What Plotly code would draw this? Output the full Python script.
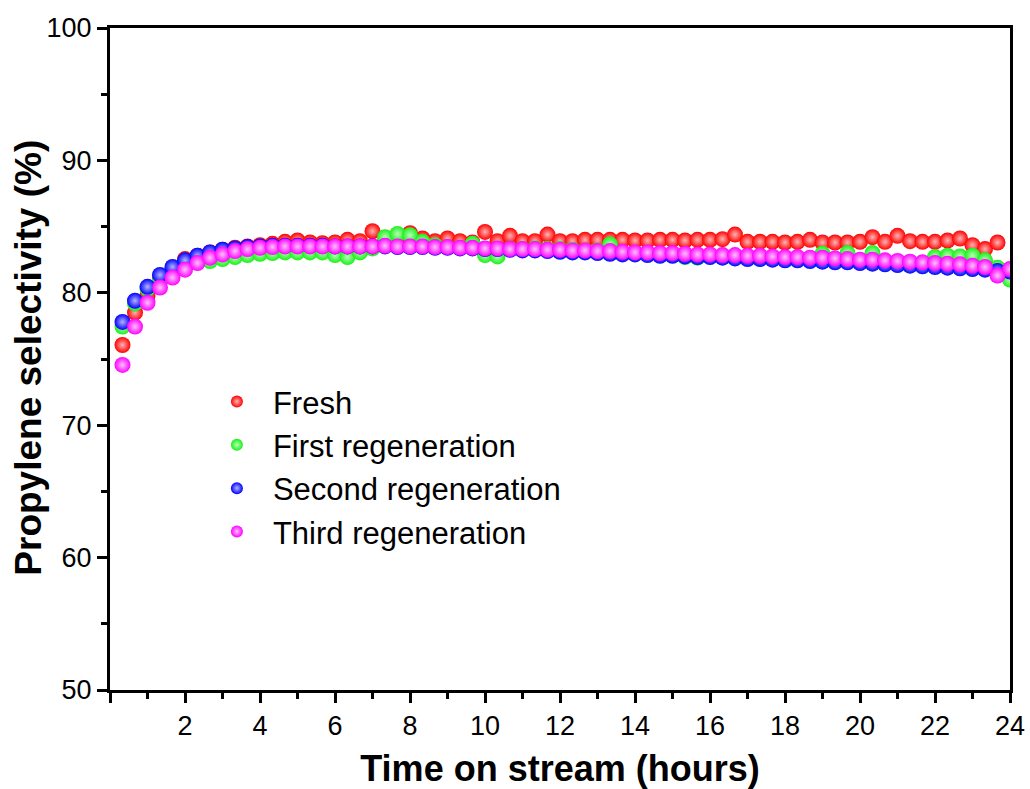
import plotly.graph_objects as go

# time on stream (hours): every 20 minutes
time_h = [k / 3 for k in range(1, 73)]

fresh = [76.06, 78.5, 79.76, 81.1, 81.8, 82.55, 82.8, 83.05, 83.25, 83.4,
         83.5, 83.6, 83.7, 83.85, 83.95, 83.8, 83.75, 83.8, 84.0, 83.9,
         84.65, 83.9, 84.0, 84.5, 84.1, 83.9, 84.1, 83.9, 83.8, 84.6,
         83.9, 84.3, 83.9, 83.9, 84.4, 83.9, 83.9, 84.0, 84.0, 84.0,
         84.0, 83.95, 83.95, 84.0, 84.0, 83.95, 84.0, 84.0, 84.05, 84.4,
         83.85, 83.85, 83.85, 83.8, 83.85, 84.0, 83.8, 83.8, 83.8, 83.85,
         84.2, 83.85, 84.3, 83.9, 83.85, 83.85, 83.95, 84.1, 83.6, 83.3,
         83.8]

first_regen = [77.45, 79.2, 80.3, 80.95, 81.65, 82.15, 82.4, 82.4, 82.55, 82.7,
               82.85, 82.95, 83.0, 83.05, 83.05, 83.05, 83.05, 82.85, 82.7, 83.05,
               83.35, 84.2, 84.45, 84.35, 83.85, 83.6, 83.45, 83.4, 83.7, 82.85,
               82.75, 83.3, 83.3, 83.35, 83.3, 83.3, 83.25, 83.2, 83.2, 83.65,
               83.05, 83.0, 83.0, 82.95, 82.9, 82.7, 82.65, 82.75, 82.75, 82.7,
               82.65, 82.6, 82.6, 82.55, 82.5, 82.5, 82.95, 82.45, 83.0, 82.4,
               83.0, 82.35, 82.3, 82.3, 82.25, 82.7, 82.8, 82.75, 82.8, 82.45,
               81.9, 81.0]

second_regen = [77.8, 79.4, 80.45, 81.35, 81.95, 82.45, 82.8, 83.05, 83.25, 83.35,
                83.45, 83.5, 83.55, 83.55, 83.55, 83.55, 83.55, 83.5, 83.5, 83.5,
                83.5, 83.5, 83.45, 83.45, 83.45, 83.4, 83.4, 83.35, 83.35, 83.3,
                83.3, 83.25, 83.2, 83.2, 83.15, 83.1, 83.05, 83.05, 83.0, 82.95,
                82.9, 82.9, 82.85, 82.8, 82.8, 82.75, 82.7, 82.7, 82.65, 82.6,
                82.55, 82.55, 82.5, 82.45, 82.45, 82.4, 82.35, 82.3, 82.3, 82.25,
                82.2, 82.15, 82.1, 82.05, 82.0, 81.95, 81.9, 81.85, 81.8, 81.75,
                81.65, 81.6]

third_regen = [74.55, 77.45, 79.25, 80.4, 81.15, 81.75, 82.25, 82.65, 82.9, 83.15,
               83.3, 83.4, 83.45, 83.5, 83.5, 83.5, 83.5, 83.5, 83.5, 83.5,
               83.5, 83.55, 83.5, 83.5, 83.5, 83.45, 83.45, 83.4, 83.4, 83.35,
               83.35, 83.3, 83.3, 83.3, 83.25, 83.25, 83.2, 83.2, 83.15, 83.15,
               83.1, 83.05, 83.05, 83.0, 83.0, 82.95, 82.9, 82.9, 82.85, 82.85,
               82.8, 82.8, 82.75, 82.7, 82.7, 82.65, 82.65, 82.6, 82.55, 82.5,
               82.5, 82.45, 82.4, 82.35, 82.3, 82.25, 82.2, 82.15, 82.05, 81.95,
               81.3, 81.8]

series_names = ["Fresh", "First regeneration", "Second regeneration", "Third regeneration"]
series_colors = ["#ff0000", "#19f019", "#0000ff", "#ff00ff"]
highlight_colors = ["#ffb4b4", "#b8ffb8", "#b4b4ff", "#ffc0ff"]
series_values = [fresh, first_regen, second_regen, third_regen]

x_tickvals = list(range(0, 25, 2))
x_ticktext = [""] + [str(v) for v in x_tickvals[1:]]
y_tickvals = [50, 60, 70, 80, 90, 100]

FONT = "Arial, Liberation Sans, sans-serif"

fig = go.Figure()
for name, vals, col, hl in zip(series_names, series_values, series_colors, highlight_colors):
    fig.add_trace(go.Scatter(
        x=time_h[:len(vals)], y=vals, mode="markers", name=name,
        marker=dict(size=16, color=col, line=dict(width=0),
                    gradient=dict(type="radial", color=hl)),
    ))

axis_common = dict(
    showline=True, linecolor="black", linewidth=3, mirror=True,
    ticks="outside", ticklen=10, tickwidth=3, tickcolor="black",
    showgrid=False, zeroline=False, automargin=False,
    tickfont=dict(family=FONT, size=27, color="black"),
)

fig.update_xaxes(
    range=[0, 24], tickmode="array", tickvals=x_tickvals, ticktext=x_ticktext,
    minor=dict(ticks="outside", ticklen=6, tickwidth=3, tickcolor="black", dtick=1, tick0=1),
    title=dict(text="<b>Time on stream (hours)</b>", font=dict(family=FONT, size=36, color="black"),
               standoff=18),
    **axis_common,
)
fig.update_yaxes(
    range=[50, 100], tickmode="array", tickvals=y_tickvals,
    minor=dict(ticks="outside", ticklen=6, tickwidth=3, tickcolor="black", dtick=5, tick0=55),
    **axis_common,
)

fig.add_annotation(
    text="<b>Propylene selectivity (%)</b>", textangle=-90,
    xref="paper", yref="paper", x=-0.09, y=0.502,
    xanchor="center", yanchor="middle", showarrow=False,
    font=dict(family=FONT, size=37, color="black"),
)

fig.update_layout(
    width=1030, height=789,
    margin=dict(l=110, r=20, t=28, b=99),
    paper_bgcolor="white", plot_bgcolor="white",
    showlegend=True,
    legend=dict(x=0.101, y=0.476, xanchor="left", yanchor="top",
                bgcolor="rgba(0,0,0,0)", borderwidth=0,
                font=dict(family=FONT, size=31, color="black"),
                itemsizing="constant", itemwidth=62, tracegroupgap=0),
)

fig.write_html("out.html")
